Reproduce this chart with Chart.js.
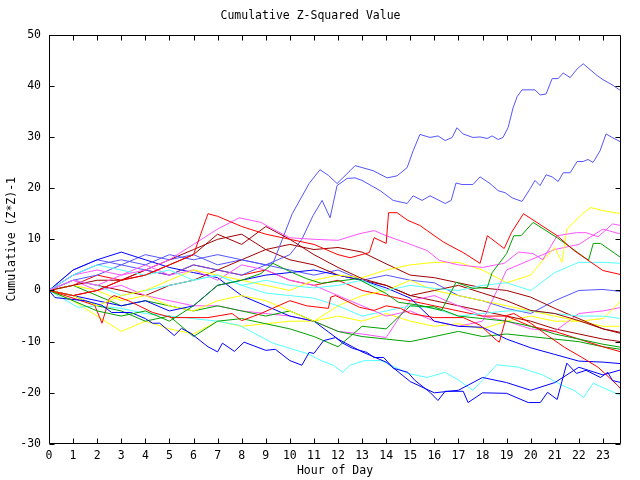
<!DOCTYPE html>
<html>
<head>
<meta charset="utf-8">
<script src="https://cdn.jsdelivr.net/npm/chart.js@4.4.1/dist/chart.umd.min.js"></script>
<style>
  html, body { margin: 0; padding: 0; background: #fff; }
  canvas { display: block; }
</style>
</head>
<body>
<canvas id="chart" width="640" height="480"></canvas>
<script>
// hourly samples, last one at 23:45
const hours = [0, 1, 2, 3, 4, 5, 6, 7, 8, 9, 10, 11, 12, 13, 14, 15, 16, 17, 18, 19, 20, 21, 22, 23, 23.75]

// walks read more finely off the picture get their own hour lists
const hoursTop1 = [0, 1, 2, 3, 4, 5, 6, 7, 8, 9, 9.3, 10.1, 10.8, 11.25, 11.6, 11.96, 12.5, 12.71, 13.46, 14.04, 14.45, 14.87, 15.12, 15.4, 15.82,
  16.15, 16.45, 16.74, 16.94, 17.19, 17.6, 17.9, 18.19, 18.4, 18.65, 18.85, 19.06, 19.27, 19.44, 19.64, 20.18, 20.39, 20.64, 20.89,
  21.14, 21.35, 21.64, 21.93, 22.18, 22.38, 22.76, 23.0, 23.38, 23.75]
const top1 = [0, 3, 5, 6, 5, 7, 6, 7, 6, 5, 5.3, 15, 20.9, 23.6, 22.5, 20.9, 23.4, 24.4, 23.4, 22, 22.4, 24, 27.3, 30.5, 29.9,
  30.2, 29.3, 29.9, 31.8, 30.6, 29.9, 30, 29.7, 30.2, 29.5, 29.9, 31.8, 35.7, 37.9, 39.2, 39.2, 38.2, 38.4, 41.4,
  41.4, 42.5, 41.6, 43.3, 44.3, 43.5, 42, 41.2, 40.2, 39]

const hoursTop2 = [0, 1, 2, 3, 4, 5, 6, 7, 8, 9, 10, 10.5, 10.96, 11.34, 11.67, 11.96, 12.38, 12.71, 13.0, 13.75, 14.29, 14.87, 15.12, 15.49, 15.82,
  16.45, 16.7, 16.9, 17.15, 17.6, 17.9, 18.31, 18.65, 18.94, 19.23, 19.64, 19.98, 20.18, 20.39, 20.64, 20.89, 21.14, 21.35, 21.64,
  21.93, 22.18, 22.38, 22.59, 22.88, 23.13, 23.38, 23.75]
const top2 = [0, 2, 3, 5, 4, 3, 5, 4, 3, 5, 7, 10, 14.6, 17.6, 14.2, 20.5, 21.9, 22, 21.5, 19.5, 17.6, 17, 18.5, 17.6, 18.5,
  17, 17.6, 21, 20.7, 20.7, 22.2, 20.9, 19.5, 19.1, 18.1, 17.4, 19.9, 21.5, 20.5, 22.6, 22.2, 21.3, 23, 23,
  25.2, 25.2, 25.6, 25, 27.3, 30.6, 29.9, 29]

const hoursRed1 = [0, 1, 2, 3, 4, 5, 6, 6.6, 7, 8, 9, 10, 11, 12, 12.5, 13.3, 13.5, 14, 14.1, 14.45, 14.9, 15.4, 15.82, 16.4,
  17.2, 17.9, 18.2, 18.9, 19.2, 19.7, 21.1, 21.8, 23, 23.75]
const red1 = [0, -1, 0, 2, 3, 5, 7, 15, 14.5, 12.5, 11, 10, 9, 7, 6.4, 7.4, 10.3, 9.2, 15.2, 15.2, 13.7, 12.7, 11.3, 9.4,
  7.4, 5.3, 10.7, 8.2, 11.3, 15, 10.7, 7.8, 3.9, 3.1]

const hoursRed2 = [0, 1, 1.9, 2.2, 2.5, 2.7, 3.3, 4.3, 5.1, 6.6, 7.6, 8, 8.8, 10, 10.7, 11.6, 11.7, 11.9, 12.9, 13.5, 14, 14.6, 15, 16, 17.2,
  17.9, 18.6, 18.7, 19, 19.3, 20, 20.7, 21.4, 22.1, 22.8, 23.6, 23.75]
const red2 = [0, -1.5, -2.9, -6.4, -1.6, -1, -2, -4.3, -5.3, -5.3, -4.5, -5.9, -4.5, -2, -3, -3.5, -1.3, -1, -3.3, -3.9, -3, -3.5, -4.5, -5.3, -5.3,
  -6.8, -9.8, -10.1, -4.9, -4.5, -6.4, -8.8, -11.1, -13, -15, -18.5, -19.3]

const hoursGreen1 = [0, 1, 2, 3, 4, 5, 6, 7, 8, 8.8, 9.3, 10.1, 10.7, 11.3, 12.8, 14, 14.5, 15.4, 16.3, 16.9, 17.6, 18.2, 18.4, 19, 19.3,
  19.6, 20.1, 21.1, 22.4, 22.6, 22.9, 23.75]
const green1 = [0, -2, -4, -5, -4, -6, -3, 1, 2, 3.3, 5.3, 3.5, 2.3, 1.4, 2.3, -0.6, -2.3, -2.9, -3.9, 1.6, 0.4, 0.6, 3.5, 7.2, 10.7,
  10.7, 13.3, 10.3, 5.9, 9.2, 9.2, 6.4]

const hoursBlue1 = [0, 0.25, 1.5, 2.2, 2.6, 3.4, 4, 4.3, 4.6, 5.2, 5.5, 5.9, 6.6, 7, 7.2, 7.7, 8.1, 9, 9.4, 10, 10.5, 10.8, 11, 11.4, 11.9,
  12.2, 12.6, 13.2, 13.5, 13.9, 14.3, 14.9, 15.2, 15.82, 16.15, 16.45, 17.2, 17.4, 18, 19, 19.9, 20.4, 20.7, 21.1, 21.5,
  21.9, 22.3, 22.9, 23.2, 23.4, 23.75]
const blue1 = [0, -1.4, -2, -2.9, -4.3, -4.3, -5.5, -6.4, -6.4, -8.8, -7.4, -8.4, -11, -12, -10.3, -11.9, -10.1, -11.7, -11.5, -13.7, -14.6, -12.1, -12.3, -9.8, -9.2,
  -10.3, -11.3, -12.1, -13.1, -13.1, -15.2, -16, -17.6, -19.9, -21.5, -19.7, -19.7, -21.9, -20, -20.1, -21.9, -21.9, -19.9, -21.3, -14.2,
  -16.2, -15.6, -17, -16, -17.6, -18]

const hoursMagenta1 = [0, 1, 2, 3, 4, 5, 6, 7, 7.9, 8.8, 9.3, 10, 11, 12, 12.9, 13.5, 14, 14.9, 15.7, 16.2, 17, 18, 18.9, 19.5, 20.1,
  20.5, 21.1, 21.9, 22.3, 22.8, 23.4, 23.75]
const magenta1 = [0, 2, 1, 3, 4, 6, 9, 12, 14.2, 13.3, 12, 10.3, 10, 9.8, 11.1, 11.7, 10.7, 9.2, 7.8, 5.9, 5, 4.5, 5.3, 7.5, 7.2,
  6, 10.7, 11.3, 11.3, 10.5, 13, 12.7]

const hoursCyan3 = [0, 1.2, 2, 3, 4, 5, 6, 7, 7.9, 9.3, 10.7, 11.3, 11.8, 12.2, 12.5, 13.1, 13.8, 14.9, 15.7, 16.45, 17.0, 17.6, 18.6, 19.5, 20.5,
  21.3, 21.8, 22.2, 22.6, 23, 23.75]
const cyan3 = [0, -3.3, -3, -3.5, -4.5, -5, -5.5, -6, -6.8, -10.3, -12.3, -13.7, -14.6, -16, -14.6, -13.7, -13.7, -16.2, -17, -16, -17.5, -19.5, -14.5, -15, -16.5,
  -18.5, -19.5, -20.9, -18.1, -19, -20.5]

const hoursYellow1 = [0, 1, 2, 3, 4, 5, 6, 7, 8, 9, 10, 11, 12, 13, 14, 15, 16, 17, 18, 19, 20, 20.5, 21, 21.3, 21.5,
  22.2, 22.5, 23, 23.75]
const yellow1 = [0, -1, -3, -1, 0, 2, 4, 3, 2, 1, 0, 2, 3, 2.5, 4, 5, 5.5, 5.5, 4, 1.5, 3, 5.9, 8.4, 5.5, 12,
  15.2, 16.2, 15.6, 15]

const cyan1 = [0, 3, 5, 4, 3, 4, 2, 3, 1, 2, 1, 0.5, 1, 2, 0, 1, 0.4, 0, 1, 1.5, 0, 3.5, 5.5, 5.5, 5.3]
const brown1 = [0, 1, 2, 2, 3, 5, 7, 11, 9, 12.5, 10, 7, 4.5, 2.3, 1, -1, 0, 1, -0.5, -2, -3.9, -4.5, -5.9, -7.5, -8.4]
const green2 = [0, -1, -3, -4, -6, -5, -9, -6, -5.5, -6.5, -7.5, -9, -11, -7, -7.5, -3, -3.2, -5, -5.5, -6, -7, -8.5, -9.5, -10.5, -11.1]
const blue2 = [0, -1, -2, -3, -2, -4, -3, 1, 2, 3, 3.5, 4, 3, 2, 0.5, -1.5, -6, -7, -7.2, -9.5, -11.2, -12.5, -13.8, -14, -14.3]
const magenta2 = [0, 3, 4, 3, 5, 3, 4, 2, 5, 4, 2, 1, -1, -3, -5, -4, -6, -7, -6, 4, 6, 8, 9, 12, 11]
const cyan2 = [0, 2, 1, -1, 0, 1, 2, 3, 1, -0.5, -1, -1.5, -3, -5, -4, -3, -3.5, -5, -4.5, -4, -4, -4.5, -5, -5, -5.5]
const brown2 = [0, -1, 0, 2, 4, 6, 8, 10, 11, 8, 9, 8, 8.4, 7.5, 5.2, 3, 2.5, 1.5, 0.5, 0, -1.3, -3.5, -5.5, -7.5, -8.2]
const yellow2 = [0, 1, 0, -2, -1, -3, -4, -2, -1, -2, -4, -6, -3, -1, 0, 2, 0, -1, -2, -3, -4, -5, -6, -5.5, -2]
const blueMid = [0, 4, 6, 5, 7, 6, 7, 5, 6, 5, 4, 3, 4, 2, 3, 2, 1.5, -1, -2, -3.5, -4.5, -2, 0, 0.2, -0.2]
const red3 = [0, 1, 3, 2, 4, 3, 5, 4, 3, 4, 2, 1, 2, 0, -1, -2, -3, -4, -5, -5, -7, -8, -9.5, -11, -12]
const green3 = [0, 1, -1, -3, -2, -3, -4, -3, -4, -5, -4, -6, -8, -9, -9.5, -10, -9, -8, -9, -8.5, -9, -9.5, -10, -11, -11.5]
const blue3 = [0, 4, 6, 7.5, 6, 4.5, 3.5, 2.5, -1, -3, -5, -6, -9.5, -12, -14, -17.8, -20, -19.5, -17, -18, -19.5, -18, -15, -16.5, -15.5]
const magenta3 = [0, 2, 0, 1, -1, -2, -3, -3, -4, -4.5, -5, -6, -8, -8.5, -9.2, -2, -1, -3, -5, -6, -7.5, -8, -4.5, -4, -3.3]
const brown3 = [0, 2, 1, 0, -1, 1, 2, 4, 6, 8, 6, 5, 3, 2, 1, -1, -2, -3, -4, -5, -6, -7.5, -8.5, -9.5, -10]
const yellow3 = [0, -2, -5, -8, -6, -7.5, -8.5, -6, -7, -6.5, -6, -6, -5, -6, -4.5, -6, -7, -6.5, -7.5, -6, -5, -6, -6, -7, -7]

const yTicks = [-30, -20, -10, 0, 10, 20, 30, 40, 50]

const RED = '#ff0000'
const GREEN = '#00a000'
const BLUE = '#0000ff'
const MAGENTA = '#ff55ff'
const CYAN = '#55ffff'
const BROWN = '#a00000'
const YELLOW = '#ffff00'
const MBLUE = '#5555ff'

const FONT = {family: "'DejaVu Sans Mono', monospace", size: 11.5, weight: 'normal'}

const pts = (hs, vs) => vs.map((v, i) => ({x: hs[i], y: v}))
const walk = (hs, vs, color) => ({
  data: pts(hs, vs),
  borderColor: color,
  borderWidth: 1,
  pointRadius: 0,
  fill: false,
  tension: 0
})

const datasets = [
  walk(hoursRed1, red1, RED),
  walk(hoursGreen1, green1, GREEN),
  walk(hoursBlue1, blue1, BLUE),
  walk(hoursMagenta1, magenta1, MAGENTA),
  walk(hours, cyan1, CYAN),
  walk(hours, brown1, BROWN),
  walk(hoursYellow1, yellow1, YELLOW),
  walk(hoursTop1, top1, MBLUE),
  walk(hoursRed2, red2, RED),
  walk(hours, green2, GREEN),
  walk(hours, blue2, BLUE),
  walk(hours, magenta2, MAGENTA),
  walk(hours, cyan2, CYAN),
  walk(hours, brown2, BROWN),
  walk(hours, yellow2, YELLOW),
  walk(hoursTop2, top2, MBLUE),
  walk(hours, red3, RED),
  walk(hours, green3, GREEN),
  walk(hours, blue3, BLUE),
  walk(hours, magenta3, MAGENTA),
  walk(hoursCyan3, cyan3, CYAN),
  walk(hours, brown3, BROWN),
  walk(hours, yellow3, YELLOW),
  walk(hours, blueMid, MBLUE)
]

// gnuplot style box with inward ticks on all four sides
const frame = {
  id: 'frame',
  afterDatasetsDraw(chart) {
    const {ctx, chartArea: a, scales: {x, y}} = chart
    const L = Math.round(a.left) + 0.5, R = Math.round(a.right) - 0.5
    const T = Math.round(a.top) + 0.5, B = Math.round(a.bottom) - 0.5
    ctx.save()
    ctx.strokeStyle = '#000'
    ctx.lineWidth = 1
    ctx.beginPath()
    ctx.rect(L, T, R - L, B - T)
    x.ticks.forEach(t => {
      const px = Math.round(x.getPixelForValue(t.value)) + 0.5
      ctx.moveTo(px, B); ctx.lineTo(px, B - 5)
      ctx.moveTo(px, T); ctx.lineTo(px, T + 5)
    })
    y.ticks.forEach(t => {
      const py = Math.round(y.getPixelForValue(t.value)) + 0.5
      ctx.moveTo(L, py); ctx.lineTo(L + 5, py)
      ctx.moveTo(R, py); ctx.lineTo(R - 5, py)
    })
    ctx.stroke()
    ctx.restore()
  }
}

new Chart(document.getElementById('chart'), {
  type: 'line',
  data: {datasets: datasets},
  plugins: [frame],
  options: {
    responsive: false,
    animation: false,
    devicePixelRatio: 1,
    layout: {padding: {left: 0, right: 19, top: 0, bottom: 0}},
    plugins: {
      legend: {display: false},
      tooltip: {enabled: false},
      title: {
        display: true,
        text: 'Cumulative Z-Squared Value',
        color: '#000',
        font: FONT,
        padding: {top: 9, bottom: 11.8}
      }
    },
    scales: {
      x: {
        type: 'linear',
        min: 0,
        max: 23.75,
        grid: {display: false, drawTicks: false},
        border: {display: false},
        ticks: {
          stepSize: 1,
          includeBounds: false,
          autoSkip: false,
          maxRotation: 0,
          padding: 5,
          color: '#000',
          font: FONT
        },
        title: {display: true, text: 'Hour of Day', color: '#000', font: FONT, padding: {top: 0, bottom: 2.5}},
        afterFit: s => { s.height = 36 }
      },
      y: {
        min: yTicks[0],
        max: yTicks[yTicks.length - 1],
        grid: {display: false, drawTicks: false},
        border: {display: false},
        afterBuildTicks: s => { s.ticks = yTicks.map(v => ({value: v})) },
        ticks: {padding: 8, color: '#000', font: FONT},
        title: {display: true, text: 'Cumulative (Z*Z)-1', color: '#000', font: FONT, padding: {top: 5, bottom: 0}},
        afterFit: s => { s.width = 49 }
      }
    }
  }
})
</script>
</body>
</html>
